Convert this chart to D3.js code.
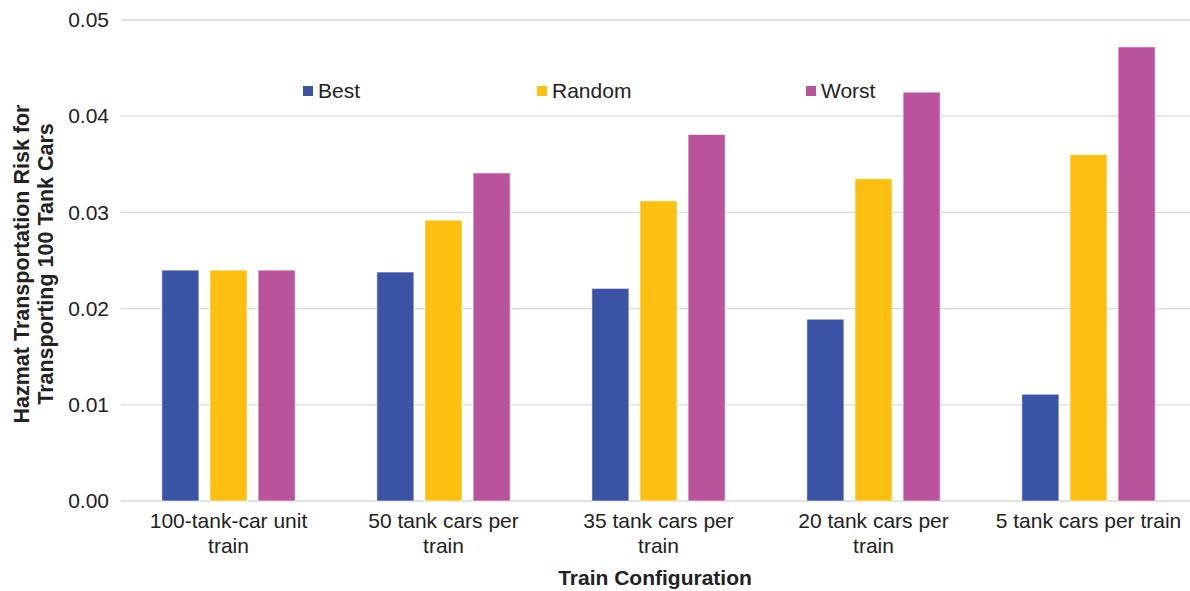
<!DOCTYPE html>
<html>
<head>
<meta charset="utf-8">
<script src="https://cdn.jsdelivr.net/npm/d3@7/dist/d3.min.js"></script>
<style>
  body { margin: 0; background: #fff; }
  svg { display: block; font-family: "Liberation Sans", Arial, sans-serif; }
</style>
</head>
<body>
<svg id="chart" width="1190" height="591"></svg>
<script>
const categories = [
  ["100-tank-car unit", "train"],
  ["50 tank cars per", "train"],
  ["35 tank cars per", "train"],
  ["20 tank cars per", "train"],
  ["5 tank cars per train"]
];
const seriesNames = ["Best", "Random", "Worst"];
const best   = [0.0240, 0.0238, 0.0221, 0.0189, 0.0111];
const random = [0.0240, 0.0292, 0.0312, 0.0335, 0.0360];
const worst  = [0.0240, 0.0341, 0.0381, 0.0425, 0.0472];
const yTicks = [0, 0.01, 0.02, 0.03, 0.04, 0.05];
const colors = ["#3A53A4", "#FDC010", "#B9539C"];

const series = [best, random, worst];
const svg = d3.select("#chart");
const plotLeft = 121, plotBottom = 501, plotTop = 20;

const x = d3.scaleBand()
  .domain(d3.range(categories.length))
  .range([plotLeft, 1196])
  .paddingInner(0.38).paddingOuter(0.19);
const xs = d3.scaleBand()
  .domain(d3.range(seriesNames.length))
  .range([0, x.bandwidth()])
  .paddingInner(0.23);
const y = d3.scaleLinear().domain([0, 0.05]).range([plotBottom, plotTop]);

// horizontal gridlines
svg.append("g")
  .selectAll("line")
  .data(yTicks)
  .join("line")
  .attr("x1", plotLeft).attr("x2", 1190)
  .attr("y1", d => y(d)).attr("y2", d => y(d))
  .attr("stroke", "#d9d9d9").attr("stroke-width", 1.3);

// y-axis tick labels
const yAxis = d3.axisLeft(y).tickValues(yTicks).tickFormat(d3.format(".2f")).tickSize(0).tickPadding(12);
svg.append("g")
  .attr("transform", `translate(${plotLeft},0)`)
  .call(yAxis)
  .call(g => g.select(".domain").remove())
  .call(g => g.selectAll("text")
    .attr("font-size", 21).attr("fill", "#222")
    .attr("font-family", "Liberation Sans, Arial, sans-serif"));

// bars
const groups = svg.append("g")
  .selectAll("g")
  .data(categories.map((c, i) => i))
  .join("g")
  .attr("transform", i => `translate(${x(i)},0)`);

groups.selectAll("rect")
  .data(i => series.map((s, k) => ({ k, v: s[i] })))
  .join("rect")
  .attr("x", d => xs(d.k))
  .attr("width", xs.bandwidth())
  .attr("y", d => y(d.v))
  .attr("height", d => y(0) - y(d.v))
  .attr("fill", d => colors[d.k])
  .attr("stroke", "rgba(255,255,255,0.6)")
  .attr("stroke-width", 1);

// category labels
const xLab = svg.append("g");
categories.forEach((lines, i) => {
  const cx = x(i) + x.bandwidth() / 2;
  const t = xLab.append("text")
    .attr("x", cx)
    .attr("y", 528)
    .attr("text-anchor", "middle")
    .attr("font-size", 21)
    .attr("fill", "#222");
  lines.forEach((ln, j) => {
    t.append("tspan").attr("x", cx).attr("dy", j === 0 ? 0 : 25).text(ln);
  });
});

// axis titles
svg.append("text")
  .attr("x", 655).attr("y", 585)
  .attr("text-anchor", "middle")
  .attr("font-size", 21).attr("font-weight", "bold").attr("fill", "#222")
  .text("Train Configuration");

const yt = svg.append("text")
  .attr("transform", "translate(29,264) rotate(-90)")
  .attr("text-anchor", "middle")
  .attr("font-size", 21.5).attr("font-weight", "bold").attr("fill", "#222");
yt.append("tspan").attr("x", 0).attr("dy", 0).text("Hazmat Transportation Risk for");
yt.append("tspan").attr("x", 0).attr("dy", 24).text("Transporting 100 Tank Cars");

// legend
const legendX = [303, 537, 806];
const legend = svg.append("g")
  .selectAll("g")
  .data(seriesNames)
  .join("g")
  .attr("transform", (d, i) => `translate(${legendX[i]},86)`);
legend.append("rect")
  .attr("width", 10).attr("height", 10)
  .attr("fill", (d, i) => colors[i]);
legend.append("text")
  .attr("x", 15).attr("y", 12)
  .attr("font-size", 21).attr("fill", "#222")
  .text(d => d);
</script>
</body>
</html>
